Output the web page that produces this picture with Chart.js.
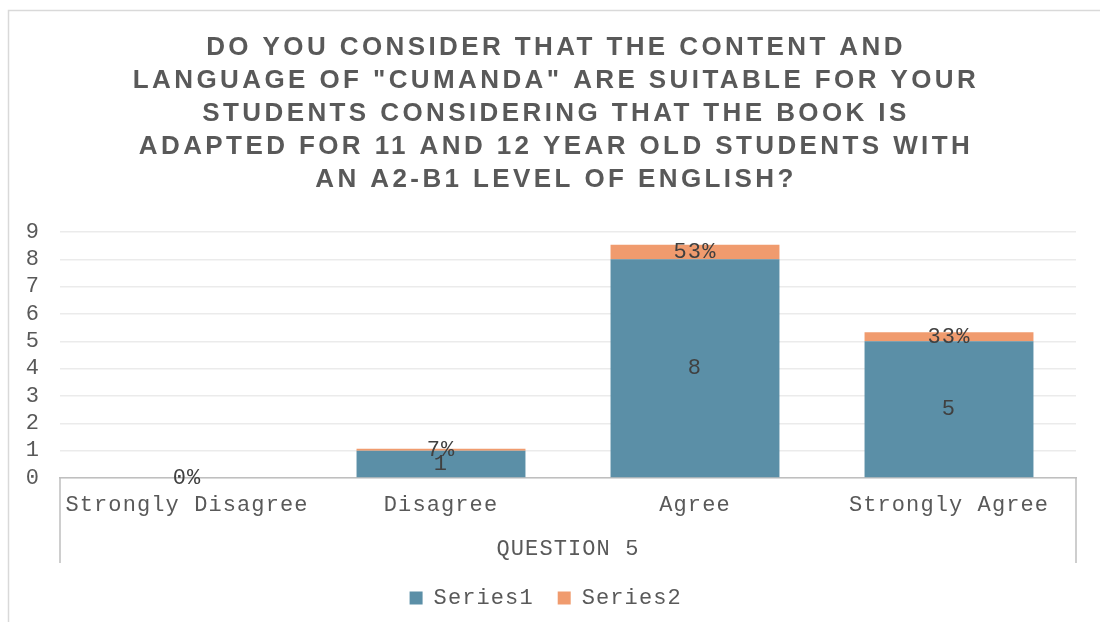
<!DOCTYPE html>
<html>
<head>
<meta charset="utf-8">
<script src="https://cdn.jsdelivr.net/npm/chart.js@4.4.1/dist/chart.umd.min.js"></script>
<style>
  body { margin: 0; background: #fff; }
  #wrap { position: relative; width: 1100px; height: 622px; }
</style>
</head>
<body>
<div id="wrap"><canvas id="grafico"></canvas></div>
<script>
// categorias e valores das séries
const categorias = ['Strongly Disagree', 'Disagree', 'Agree', 'Strongly Agree'];
const serie1 = [0, 1, 8, 5];
const serie2 = [0, 0.07, 0.53, 0.33];
const tituloLinhas = [
  'DO YOU CONSIDER THAT THE CONTENT AND',
  'LANGUAGE OF "CUMANDA" ARE SUITABLE FOR YOUR',
  'STUDENTS CONSIDERING THAT THE BOOK IS',
  'ADAPTED FOR 11 AND 12 YEAR OLD STUDENTS WITH',
  'AN A2-B1 LEVEL OF ENGLISH?'
];
const grupoEixo = 'QUESTION 5';

const mono = "'Liberation Mono', 'Courier New', monospace";

// moldura, título espaçado e caixa do eixo de categorias
const moldura = {
  id: 'moldura',
  beforeDraw(chart) {
    const c = chart.ctx;
    c.letterSpacing = '1.1px';
    c.save();
    c.strokeStyle = '#d9d9d9';
    c.lineWidth = 1.5;
    c.beginPath();
    c.moveTo(8.5, 622);
    c.lineTo(8.5, 10.5);
    c.lineTo(1100, 10.5);
    c.stroke();

    c.letterSpacing = '3.4px';
    c.font = "bold 26px 'Liberation Sans', Arial, sans-serif";
    c.fillStyle = '#595959';
    c.textAlign = 'center';
    c.textBaseline = 'middle';
    tituloLinhas.forEach((linha, i) => c.fillText(linha, 556, 48 + i * 33));
    c.restore();
  },
  afterDraw(chart) {
    const c = chart.ctx;
    const a = chart.chartArea;
    const x = chart.scales.x;
    c.save();
    c.strokeStyle = '#bfbfbf';
    c.lineWidth = 1.5;
    c.beginPath();
    c.moveTo(a.left, a.bottom);
    c.lineTo(a.left, x.bottom);
    c.moveTo(a.right, a.bottom);
    c.lineTo(a.right, x.bottom);
    c.stroke();
    c.restore();
  }
};

// rótulos de dados no centro de cada segmento
const rotulos = {
  id: 'rotulos',
  afterDatasetsDraw(chart) {
    const c = chart.ctx;
    c.save();
    c.font = '22px ' + mono;
    c.fillStyle = '#404040';
    c.textAlign = 'center';
    c.textBaseline = 'middle';
    chart.data.datasets.forEach((ds, i) => {
      chart.getDatasetMeta(i).data.forEach((bar, j) => {
        const v = ds.data[j];
        if (i === 0 && v === 0) return;
        const txt = i === 1 ? Math.round(v * 100) + '%' : String(v);
        c.fillText(txt, bar.x, (bar.y + bar.base) / 2);
      });
    });
    c.restore();
  }
};

const ctx = document.getElementById('grafico').getContext('2d');
const grafico = new Chart(ctx, {
  type: 'bar',
  data: {
    labels: categorias,
    datasets: [
      { label: 'Series1', data: serie1, backgroundColor: '#5b8fa7', categoryPercentage: 1, barPercentage: 0.665 },
      { label: 'Series2', data: serie2, backgroundColor: '#f09b6e', categoryPercentage: 1, barPercentage: 0.665 }
    ]
  },
  options: {
    responsive: true,
    maintainAspectRatio: false,
    animation: false,
    layout: { padding: { left: 0, right: 24, top: 232, bottom: 3 } },
    scales: {
      x: {
        stacked: true,
        grid: { display: false, drawTicks: false },
        border: { color: '#bfbfbf', width: 1.5 },
        ticks: { color: '#595959', font: { family: mono, size: 22 }, padding: 14, maxRotation: 0 },
        title: { display: true, text: grupoEixo, color: '#595959', font: { family: mono, size: 22 }, padding: { top: 17, bottom: 1 } },
        afterFit(s) { s.height = 85; }
      },
      y: {
        stacked: true,
        min: 0,
        max: 9,
        grid: { color: '#ebebeb', lineWidth: 1.5, drawTicks: false },
        border: { display: false },
        ticks: { stepSize: 1, autoSkip: false, color: '#595959', font: { family: mono, size: 22 }, padding: 20 },
        afterFit(s) { s.width = 60; }
      }
    },
    plugins: {
      title: { display: false },
      legend: {
        position: 'bottom',
        labels: { boxWidth: 13, boxHeight: 13, color: '#595959', font: { family: mono, size: 22, lineHeight: 1 }, padding: 24 }
      },
      tooltip: { enabled: false }
    }
  },
  plugins: [moldura, rotulos]
});
</script>
</body>
</html>
